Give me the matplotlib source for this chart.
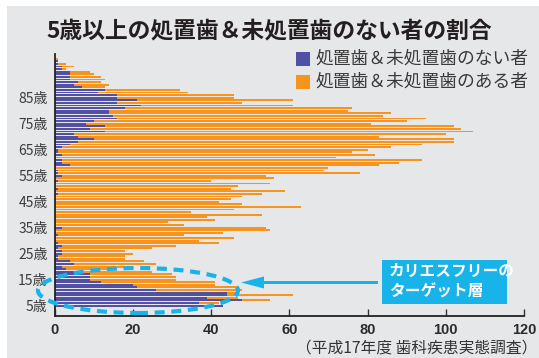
import numpy as np
import matplotlib
matplotlib.use("Agg")
import matplotlib.pyplot as plt
from matplotlib.patches import Rectangle, Ellipse, FancyArrow

plt.rcParams['font.family'] = ['Noto Sans CJK JP', 'DejaVu Sans']

# ages 5..100, counts
ages = list(range(5, 101))
no_caries = [43, 37, 48, 39, 44, 44, 26, 21, 20, 12,
             9, 9, 9, 7, 3, 2, 5, 4, 1, 1,
             2, 2, 1, 2, 1, 0, 0, 1, 0, 0,
             2, 0, 0, 0, 0, 0, 0, 0, 0, 0,
             0, 0, 0, 1, 0, 1, 0, 0, 1, 0,
             2, 1, 1, 0, 4, 2, 2, 0, 2, 1,
             1, 2, 4, 6, 10, 6, 5, 13, 9, 13,
             8, 10, 16, 15, 14, 14, 18, 22, 16, 21,
             16, 16, 11, 13, 7, 5, 6, 4, 4, 4,
             4, 2, 2, 1, 1, 0]
with_caries = [0, 5, 7, 8, 17, 3, 22, 26, 21, 29,
               22, 22, 21, 18, 12, 16, 21, 19, 17, 17,
               18, 16, 24, 29, 41, 37, 46, 32, 43, 55,
               52, 33, 29, 41, 39, 53, 35, 46, 63, 48,
               42, 45, 48, 52, 59, 44, 47, 55, 39, 56,
               52, 77, 68, 70, 79, 86, 92, 72, 80, 75,
               79, 84, 90, 96, 92, 77, 95, 94, 95, 89,
               73, 80, 79, 69, 72, 61, 58, 39, 32, 40,
               30, 30, 23, 19, 6, 9, 6, 9, 8, 6,
               5, 1, 3, 2, 0, 1]
label_ages = [5, 15, 25, 35, 45, 55, 65, 75, 85]
x_ticks = [0, 20, 40, 60, 80, 100, 120]

series_names = ['処置歯＆未処置歯のない者', '処置歯＆未処置歯のある者']
title = '5歳以上の処置歯＆未処置歯のない者の割合'
source = '（平成17年度 歯科疾患実態調査）'

purple = '#5150a2'
orange = '#f7941d'
cyan = '#18b4e9'
bg = '#e6e7e8'

W, H = 539, 358
fig = plt.figure(figsize=(W / 100, H / 100), dpi=100, facecolor='white')
fig.patches.append(Rectangle((7 / W, 0), 1, 1 - 6 / H, transform=fig.transFigure,
                             facecolor=bg, edgecolor='none', zorder=-5))

ax = fig.add_axes([54.5 / W, 1 - 316 / H, (524 - 54.5) / W, (316 - 53.5) / H])
ax.set_facecolor('none')

ax.barh(ages, no_caries, height=0.72, color=purple, linewidth=0)
ax.barh(ages, with_caries, left=no_caries, height=0.72, color=orange, linewidth=0)

ax.set_xlim(0, 120)
ax.set_ylim(1, 102)
ax.set_xticks(x_ticks)
ax.set_xticklabels([str(v) for v in x_ticks], fontsize=10.5, fontweight='bold',
                   color='#2b2b2b', family=['Liberation Sans'])
ax.set_yticks(label_ages)
ax.set_yticklabels(['%d歳' % a for a in label_ages], fontsize=10, color='#3c3c3c')
ax.tick_params(axis='x', direction='in', length=5, width=1, color='#333333', pad=5)
ax.tick_params(axis='y', length=0, pad=5)
for s in ['top', 'right']:
    ax.spines[s].set_visible(False)
ax.spines['left'].set_linewidth(1.3)
ax.spines['bottom'].set_linewidth(1.3)
ax.spines['left'].set_color('#222222')
ax.spines['bottom'].set_color('#222222')

fig.text(269 / W, 1 - 31 / H, title, ha='center', va='center', fontsize=16.4,
         fontweight='bold', color='#231f20')

# legend
for i, (name, col) in enumerate(zip(series_names, [purple, orange])):
    yc = 59 + i * 23
    fig.patches.append(Rectangle((296 / W, 1 - (yc + 7) / H), 14 / W, 14 / H,
                                 transform=fig.transFigure, facecolor=col,
                                 edgecolor='none'))
    fig.text(316 / W, 1 - yc / H, name, ha='left', va='center', fontsize=12.8,
             color='#3a3a3a')

# callout
ell = Ellipse((138 / W, 1 - 290.5 / H), 200 / W, 45 / H, transform=fig.transFigure,
              fill=False, edgecolor=cyan, linewidth=3, linestyle=(0, (2.4, 1.6)))
fig.patches.append(ell)
fig.patches.append(FancyArrow(378 / W, 1 - 282.5 / H, -(378 - 241) / W, 0,
                              width=3 / H, head_width=12 / H, head_length=23 / W,
                              length_includes_head=True, transform=fig.transFigure,
                              color=cyan, linewidth=0))
fig.patches.append(Rectangle((382 / W, 1 - 304 / H), 125 / W, 44 / H,
                             transform=fig.transFigure, facecolor=cyan,
                             edgecolor='none'))
fig.text(389 / W, 1 - 271 / H, 'カリエスフリーの', ha='left', va='center',
         fontsize=11.3, fontweight='bold', color='white')
fig.text(389 / W, 1 - 292 / H, 'ターゲット層', ha='left', va='center',
         fontsize=11.3, fontweight='bold', color='white')

fig.text(537 / W, 1 - 348 / H, source, ha='right', va='center', fontsize=11.3,
         color='#333333')

fig.savefig('out.png', dpi=100, facecolor=fig.get_facecolor())
